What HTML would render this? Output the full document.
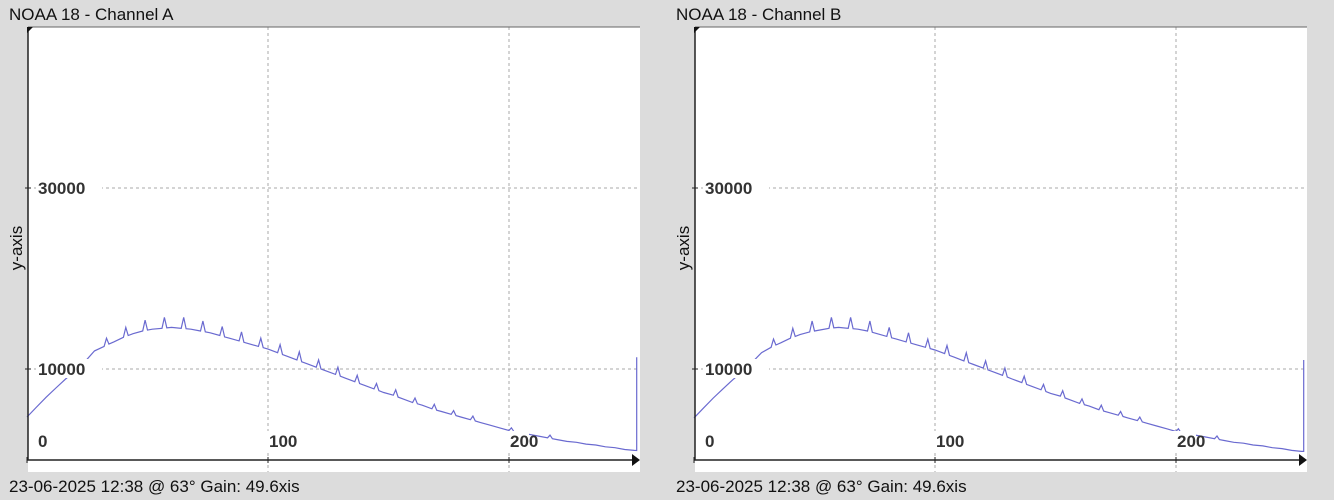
<!DOCTYPE html>
<html><head><meta charset="utf-8"><style>
body{margin:0;background:#dcdcdc;width:1334px;height:500px;overflow:hidden;font-family:"Liberation Sans",sans-serif}
svg{display:block}
</style></head><body>
<svg id="chart" width="1334" height="500"></svg>
<script>
const xTicks=[0,100,200];
const yTicks=[10000,30000];
const xs=[0,4,8,12,16,20,24,28,32,36,40,44,48,52,56,60,64,68,72,76,80,84,88,92,96,100,104,108,112,116,120,124,128,132,136,140,144,148,152,156,160,164,168,172,176,180,184,188,192,196,200,204,208,212,216,220,224,228,232,236,240,244,248,252];
const seriesA=[4700,5800,6900,7900,8900,9800,10800,12000,12500,13000,13500,13900,14200,14400,14500,14600,14500,14400,14200,14000,13700,13400,13100,12800,12500,12200,11800,11400,11000,10600,10200,9800,9400,9000,8600,8200,7800,7400,7100,6700,6300,6000,5600,5300,5000,4700,4400,4100,3800,3500,3200,3000,2800,2600,2400,2200,2000,1900,1700,1600,1400,1300,1100,1000];
const seriesB=[4600,5700,6800,7800,8800,9700,10700,11800,12400,12900,13400,13800,14100,14300,14500,14600,14500,14400,14200,13900,13600,13300,13000,12700,12400,12100,11700,11300,10900,10500,10100,9700,9300,8900,8500,8100,7700,7300,7000,6600,6200,5900,5500,5200,4900,4600,4300,4000,3700,3400,3100,2900,2700,2500,2300,2100,1900,1800,1600,1500,1300,1200,1000,900];
const spikeX=[32,40,48,56,64,72,80,88,96,104,112,120,128,136,144,152,160,168,176,184,200,216];
const spikeH=[900,1100,1200,1200,1200,1100,1000,1000,900,900,900,800,800,700,600,600,500,500,400,400,300,300];
const endSpikeA=11300, endSpikeB=11000;
const NS='http://www.w3.org/2000/svg';
const svg=document.getElementById('chart');
function mk(t,a,p){const e=document.createElementNS(NS,t);for(const k in a)e.setAttribute(k,a[k]);(p||svg).appendChild(e);return e;}
function panel(ox,title,series,endSpike,key){
  const g=mk('g',{});
  
  
  const L=28+ox,R=638+ox,T=27,B=460;
  const sx=u=>27+ox+u*2.41, sy=v=>459.5-v*0.00905;
  const bg=mk('rect',{x:L,y:T,width:R-L+2,height:472-T,fill:'#fff'},g);
  
  xTicks.slice(1).forEach(t=>{const l=mk('line',{x1:sx(t),x2:sx(t),y1:T,y2:472,stroke:'#aaa','stroke-dasharray':'3,3'},g);
    });
  yTicks.forEach(t=>{const l=mk('line',{x1:L,x2:R,y1:sy(t),y2:sy(t),stroke:'#aaa','stroke-dasharray':'3,3'},g);
    });
  let d='';
  const sp={};spikeX.forEach((x,i)=>sp[x]=spikeH[i]);
  xs.forEach((x,i)=>{d+=(i?'L':'M')+sx(x).toFixed(1)+','+sy(series[i]).toFixed(1);
    if(sp[x]!==undefined&&i<xs.length-1){d+='L'+sx(x+1).toFixed(1)+','+sy(series[i]+sp[x]).toFixed(1)+'L'+sx(x+2).toFixed(1)+','+sy((series[i]+series[i+1])/2).toFixed(1);}
  });
  d+='L'+sx(253).toFixed(1)+','+sy(series[series.length-1])+'L'+sx(253).toFixed(1)+','+sy(endSpike);
  const p=mk('path',{d:d,fill:'none',stroke:'#6a6ad0','stroke-width':1.2},g);
  
  const ax=mk('path',{d:`M${L},${T}V${B}H${R}`,fill:'none',stroke:'#222','stroke-width':1.5},g);
  
  mk('line',{x1:L,x2:R+2,y1:T,y2:T,stroke:'#666'},g);
  mk('path',{d:`M${L-1},${T}l6,0l-6,6z`,fill:'#111'},g);
  mk('path',{d:`M${R-6},${B-6}l8,6l-8,6z`,fill:'#111'},g);
  xTicks.forEach(t=>{mk('line',{x1:sx(t),x2:sx(t),y1:B-3,y2:B+3,stroke:'#222'},g);
    const bgx=mk('rect',{x:sx(t)+(t?-18:10),y:431,width:t?38:12,height:19,fill:'#fff'},g);
    const tx=mk('text',{x:sx(t)+(t?1:11),y:447,'font-size':17,fill:'#333','font-weight':'bold'},g);
    tx.textContent=t;});
  yTicks.forEach(t=>{mk('line',{x1:L-3,x2:L+3,y1:sy(t),y2:sy(t),stroke:'#222'},g);
    mk('rect',{x:L+8,y:sy(t)-10,width:66,height:19,fill:'#fff'},g);
    const tx=mk('text',{x:L+10,y:sy(t)+6,'font-size':17,fill:'#333','font-weight':'bold'},g);
    tx.textContent=t;});
  const tt=mk('text',{x:ox+9,y:20,'font-size':17,fill:'#111'},g);tt.textContent=title;
  
  const yl=mk('text',{x:0,y:0,'font-size':17,fill:'#111',transform:`translate(${ox+22},248) rotate(-90)`,'text-anchor':'middle'},g);yl.textContent='y-axis';
  
  const ft=mk('text',{x:ox+9,y:492,'font-size':17,fill:'#111'},g);ft.textContent='23-06-2025 12:38 @ 63° Gain: 49.6xis';
  
}
panel(0,'NOAA 18 - Channel A',seriesA,endSpikeA,'a');
panel(667,'NOAA 18 - Channel B',seriesB,endSpikeB,'b');
</script>
</body></html>
